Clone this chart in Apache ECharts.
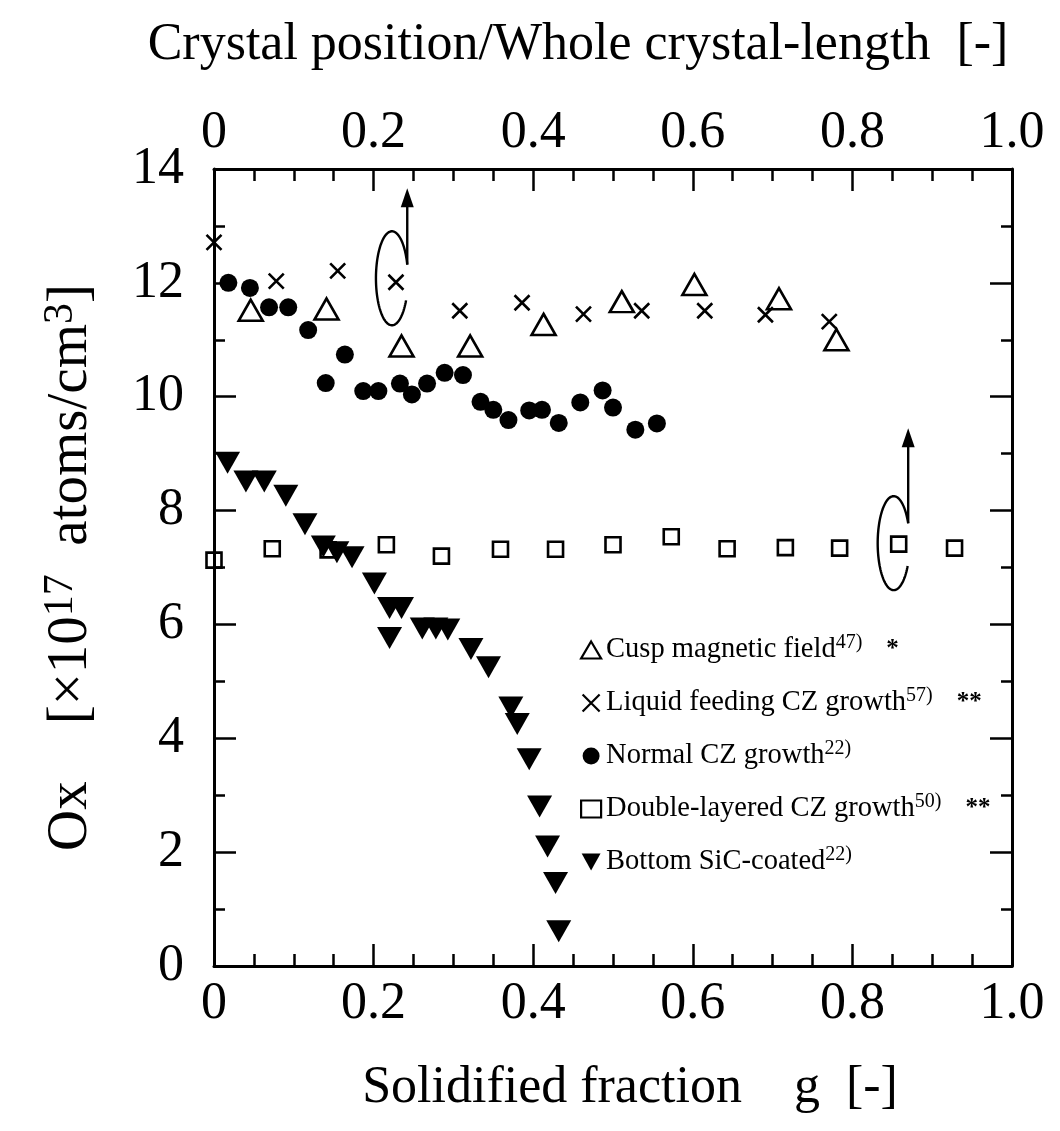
<!DOCTYPE html>
<html><head><meta charset="utf-8">
<script src="https://cdn.jsdelivr.net/npm/echarts@6/dist/echarts.min.js"></script>
<style>html,body{margin:0;padding:0;background:#fff}#c{width:1060px;height:1131px}</style>
</head><body><div id="c"></div>
<script>
// ---- data ----
const seriesNames = ['Cusp magnetic field', 'Liquid feeding CZ growth', 'Normal CZ growth', 'Double-layered CZ growth', 'Bottom SiC-coated'];
const seriesRefs = ['47)', '57)', '22)', '50)', '22)'];
const seriesMarks = ['*', '**', '', '**', ''];
const cuspField = [[0.046,11.52],[0.141,11.54],[0.235,10.89],[0.321,10.89],[0.413,11.27],[0.511,11.67],[0.602,11.97],[0.708,11.72],[0.780,11.00]];
const liquidFeeding = [[0.0,12.71],[0.078,12.03],[0.155,12.21],[0.228,12.01],[0.308,11.51],[0.386,11.65],[0.463,11.45],[0.536,11.51],[0.615,11.51],[0.691,11.44],[0.771,11.32]];
const normalCZ = [[0.018,12.0],[0.045,11.91],[0.069,11.57],[0.093,11.57],[0.118,11.17],[0.140,10.24],[0.164,10.74],[0.187,10.10],[0.206,10.10],[0.233,10.23],[0.248,10.04],[0.267,10.23],[0.289,10.42],[0.312,10.38],[0.334,9.91],[0.350,9.77],[0.369,9.59],[0.395,9.76],[0.411,9.77],[0.432,9.54],[0.459,9.90],[0.487,10.11],[0.500,9.81],[0.528,9.42],[0.555,9.53]];
const doubleLayered = [[0.0,7.13],[0.073,7.33],[0.143,7.31],[0.216,7.40],[0.285,7.20],[0.359,7.32],[0.428,7.32],[0.500,7.40],[0.573,7.54],[0.643,7.33],[0.716,7.35],[0.784,7.34],[0.858,7.41],[0.928,7.34]];
const bottomSiC = [[0.017,8.84],[0.040,8.51],[0.063,8.51],[0.090,8.26],[0.114,7.76],[0.137,7.37],[0.154,7.27],[0.173,7.18],[0.201,6.72],[0.220,6.29],[0.235,6.29],[0.220,5.76],[0.261,5.93],[0.278,5.93],[0.293,5.91],[0.322,5.57],[0.344,5.25],[0.372,4.54],[0.380,4.25],[0.395,3.63],[0.408,2.80],[0.418,2.10],[0.428,1.46],[0.432,0.61]];
const xTickLabels = {0:'0', 0.2:'0.2', 0.4:'0.4', 0.6:'0.6', 0.8:'0.8', 1:'1.0'};

// ---- chart ----
const FONT = '"Liberation Serif","Times New Roman",serif';
const chart = echarts.init(document.getElementById('c'), null, {renderer:'canvas'});
const axisLine = {show:true, onZero:false, lineStyle:{color:'#000', width:3}};
const crossPath = 'path://M0,0L10,10M10,0L0,10';
const downTriPath = 'path://M0,0L10,0L5,9Z';
function xLabel(v){ const k = Math.round(v*10)/10; return xTickLabels[k] !== undefined ? xTickLabels[k] : ''; }

const xCommon = {
  type:'value', min:0, max:1, interval:0.2,
  axisLine, splitLine:{show:false},
  axisTick:{show:true, inside:true, length:22, lineStyle:{color:'#000', width:2.5}},
  minorTick:{show:true, splitNumber:4, length:12, lineStyle:{color:'#000', width:2.5}},
  nameTextStyle:{color:'#000', fontFamily:FONT, fontSize:52}
};
const yCommon = {
  type:'value', min:0, max:14, interval:2,
  axisLine, splitLine:{show:false},
  axisTick:{show:true, inside:true, length:22, lineStyle:{color:'#000', width:2.5}},
  minorTick:{show:true, splitNumber:2, length:11, lineStyle:{color:'#000', width:2.5}}
};

const legendFmt = {};
seriesNames.forEach((n,i)=>{
  legendFmt[n] = n + '{sup|' + seriesRefs[i] + '}' + (seriesMarks[i] ? '{ast|' + seriesMarks[i] + '}' : '');
});

const hollow = {color:'rgba(0,0,0,0)', borderColor:'#000', borderWidth:2.6, opacity:1};
const solid = {color:'#000', opacity:1};
const option = {
  animation:false,
  backgroundColor:'#fff',
  grid:{left:214, right:48, top:169, bottom:165, containLabel:false},
  xAxis:[
    Object.assign({}, xCommon, {position:'bottom',
      axisLabel:{show:true, color:'#000', fontFamily:FONT, fontSize:52, margin:12, formatter:xLabel},
      name:'Solidified fraction    g  [-]', nameLocation:'middle', nameGap:96,
      nameTextStyle:Object.assign({}, xCommon.nameTextStyle, {padding:[0,0,0,34]})}),
    Object.assign({}, xCommon, {position:'top',
      axisLabel:{show:true, color:'#000', fontFamily:FONT, fontSize:52, margin:10, formatter:xLabel},
      name:'Crystal position/Whole crystal-length  [-]', nameLocation:'middle', nameGap:98,
      nameTextStyle:Object.assign({}, xCommon.nameTextStyle, {padding:[0,70,0,0]})})
  ],
  yAxis:[
    Object.assign({}, yCommon, {position:'left',
      axisLabel:{show:true, color:'#000', fontFamily:FONT, fontSize:52, margin:30},
      name:'Ox    [×10{sup|17}  atoms/cm{sup|3}]', nameLocation:'middle', nameGap:112, nameRotate:90,
      nameTextStyle:{color:'#000', fontFamily:FONT, fontSize:57, lineHeight:62, padding:[0,0,0,0],
        rich:{sup:{fontFamily:FONT, fontSize:42, lineHeight:40, verticalAlign:'top', color:'#000'}}}}),
    Object.assign({}, yCommon, {position:'right', axisLabel:{show:false}})
  ],
  legend:{
    show:true, orient:'vertical', left:575, top:628, itemGap:19, itemWidth:20, itemHeight:17,
    data:seriesNames,
    formatter:function(n){ return legendFmt[n]; },
    textStyle:{color:'#000', fontFamily:FONT, fontSize:28.5, lineHeight:34,
      rich:{sup:{fontFamily:FONT, fontSize:20, lineHeight:20, verticalAlign:'top', color:'#000'},
            ast:{fontFamily:FONT, fontSize:25, fontWeight:'bold', color:'#000', padding:[0,0,0,24]}}},
    itemStyle:{borderWidth:2.2},
    selectedMode:false
  },
  series:[
    {name:seriesNames[0], type:'scatter', data:cuspField, symbol:'triangle', symbolSize:[24,21], itemStyle:hollow, z:3},
    {name:seriesNames[1], type:'scatter', data:liquidFeeding, symbol:crossPath, symbolSize:15, itemStyle:hollow, z:3},
    {name:seriesNames[2], type:'scatter', data:normalCZ, symbol:'circle', symbolSize:18, itemStyle:solid, z:2},
    {name:seriesNames[3], type:'scatter', data:doubleLayered, symbol:'rect', symbolSize:15, itemStyle:hollow, z:2},
    {name:seriesNames[4], type:'scatter', data:bottomSiC, symbol:downTriPath, symbolSize:[25,22], itemStyle:solid, z:2}
  ]
};
chart.setOption(option);

// ---- annotations: open ellipses with arrows pointing to the top axis ----
function annotation(seriesIndex, point, offX, offY, rx, ry, a0, a1, tipDy){
  const p = chart.convertToPixel({seriesIndex}, point);
  const cx = p[0] + offX, cy = p[1] + offY;
  const pts = [];
  for (let a = a0; a <= a1 + 0.001; a += 3) {
    const r = a*Math.PI/180;
    pts.push([cx + rx*Math.cos(r), cy + ry*Math.sin(r)]);
  }
  const end = pts[pts.length-1];
  const tipY = p[1] + tipDy;
  return [
    {type:'polyline', shape:{points:pts}, style:{stroke:'#000', lineWidth:2.4, fill:null}, z:10},
    {type:'line', shape:{x1:end[0], y1:end[1], x2:end[0], y2:tipY+14}, style:{stroke:'#000', lineWidth:2.4}, z:10},
    {type:'polygon', shape:{points:[[end[0], tipY],[end[0]-6.5, tipY+19],[end[0]+6.5, tipY+19]]}, style:{fill:'#000'}, z:10}
  ];
}
const g = [].concat(
  annotation(1, liquidFeeding[3], -4, -4, 16, 47, 28, 343, -94),
  annotation(3, doubleLayered[12], -5, -1, 16, 47, 29, 335, -116)
);
chart.setOption({graphic:{elements:g}});
</script>
</body></html>
